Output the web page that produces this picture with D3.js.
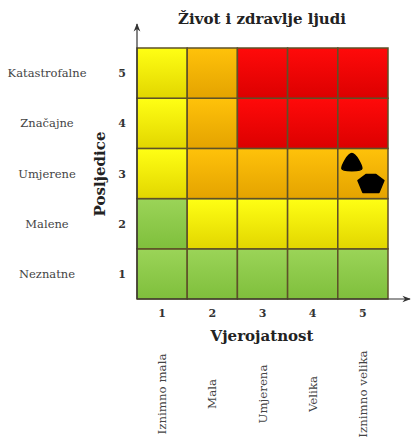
<!DOCTYPE html>
<html><head><meta charset="utf-8">
<script src="https://cdn.jsdelivr.net/npm/d3@7"></script>
<style>body{margin:0;background:#fff}text{font-family:"DejaVu Serif",serif}</style>
</head><body>
<svg id="c" width="411" height="439"></svg>
<script>
const title = "Život i zdravlje ljudi";
const xTicks = [1,2,3,4,5];
const yTicks = [1,2,3,4,5];
const xLabels = ["Iznimno mala","Mala","Umjerena","Velika","Iznimno velika"];
const yLabels = ["Neznatne","Malene","Umjerene","Značajne","Katastrofalne"];
const xTitle = "Vjerojatnost";
const yTitle = "Posljedice";
// risk level per cell: rows = consequence 1..5, cols = likelihood 1..5
const riskRows = [
  ["G","G","G","G","G"],
  ["G","Y","Y","Y","Y"],
  ["Y","O","O","O","O"],
  ["Y","O","R","R","R"],
  ["Y","O","R","R","R"]
];
const markerShape = ["triangle","pentagon"];
const markerX = [4.78, 5.16];
const markerY = [3.22, 2.8];

const svg = d3.select("#c");
const L = 137, R = 388, T = 48, B = 299;
const x = d3.scaleLinear().domain([0.5,5.5]).range([L,R]);
const y = d3.scaleLinear().domain([0.5,5.5]).range([B,T]);

const defs = svg.append("defs");
const cols = {G:["#9bd458","#7fbf3c"],Y:["#ffff14","#e2d600"],O:["#ffc20a","#e4a300"],R:["#ff0a0a","#dc0000"]};
Object.entries(cols).forEach(([k,c])=>{
  const g = defs.append("linearGradient").attr("id","g"+k).attr("x1",0).attr("x2",0).attr("y1",0).attr("y2",1);
  g.append("stop").attr("offset","0%").attr("stop-color",c[0]);
  g.append("stop").attr("offset","100%").attr("stop-color",c[1]);
});
defs.append("marker").attr("id","arr").attr("viewBox","0 0 10 10").attr("refX",9).attr("refY",5)
  .attr("markerWidth",7).attr("markerHeight",7).attr("orient","auto-start-reverse")
  .append("path").attr("d","M0,1 L10,5 L0,9 L3,5 Z").attr("fill","#333");

const cells = [];
riskRows.forEach((row,i)=>row.forEach((r,j)=>cells.push({c:j+1,r:i+1,k:r})));
svg.append("g").selectAll("rect").data(cells).join("rect")
  .attr("x",d=>x(d.c-0.5)).attr("y",d=>y(d.r+0.5))
  .attr("width",x(1.5)-x(0.5)).attr("height",y(0.5)-y(1.5))
  .attr("fill",d=>"url(#g"+d.k+")")
  .attr("stroke","#5e5128").attr("stroke-width",1.5);

// axes arrows
svg.append("line").attr("x1",L).attr("y1",B).attr("x2",L).attr("y2",24)
  .attr("stroke","#333").attr("stroke-width",1.2).attr("marker-end","url(#arr)");
svg.append("line").attr("x1",L).attr("y1",B).attr("x2",410).attr("y2",B)
  .attr("stroke","#333").attr("stroke-width",1.2).attr("marker-end","url(#arr)");

// ticks
svg.append("g").selectAll("text").data(xTicks).join("text")
  .attr("x",d=>x(d)).attr("y",317).attr("text-anchor","middle")
  .attr("font-size",11).attr("font-weight","bold").attr("fill","#333").text(d=>d);
svg.append("g").selectAll("text").data(yTicks).join("text")
  .attr("x",122).attr("y",d=>y(d)+4).attr("text-anchor","middle")
  .attr("font-size",11).attr("font-weight","bold").attr("fill","#333").text(d=>d);

// y category labels
svg.append("g").selectAll("text").data(yLabels).join("text")
  .attr("x",47).attr("y",(d,i)=>y(i+1)+4).attr("text-anchor","middle")
  .attr("font-size",11.5).attr("fill","#444").text(d=>d);
// x category labels
svg.append("g").selectAll("text").data(xLabels).join("text")
  .attr("transform",(d,i)=>`translate(${x(i+1)+4},394) rotate(-90)`)
  .attr("text-anchor","middle")
  .attr("font-size",11.8).attr("fill","#444").text(d=>d);

// titles
svg.append("text").attr("x",262).attr("y",24).attr("text-anchor","middle")
  .attr("font-size",15).attr("font-weight","bold").attr("fill","#222").text(title);
svg.append("text").attr("x",262).attr("y",341).attr("text-anchor","middle")
  .attr("font-size",15).attr("font-weight","bold").attr("fill","#222").text(xTitle);
svg.append("text").attr("transform",`translate(105,174) rotate(-90)`).attr("text-anchor","middle")
  .attr("font-size",15).attr("font-weight","bold").attr("fill","#222").text(yTitle);

// markers
const shapes = {triangle:"M0,-9 C4,-9 10,3 10,6 C10,9 -10,9 -10,6 C-10,3 -4,-9 0,-9 Z",
  pentagon:"M-5,-9 L5,-9 L13,-3 L8,9 L-8,9 L-13,-3 Z"};
svg.append("g").selectAll("path").data(markerShape).join("path")
  .attr("transform",(d,i)=>`translate(${x(markerX[i])},${y(markerY[i])})`)
  .attr("d",d=>shapes[d]).attr("fill","#000").attr("stroke","#000").attr("stroke-linejoin","round").attr("stroke-width",1.5);
</script>
</body></html>
